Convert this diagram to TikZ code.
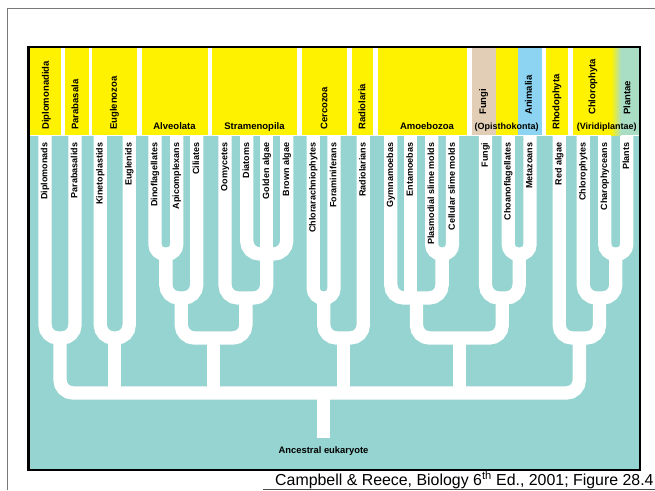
\documentclass[tikz,border=0pt]{standalone}
\usepackage{fontspec}
\setmainfont{Liberation Sans}
\definecolor{tealbg}{RGB}{149,212,208}
\definecolor{hdryellow}{RGB}{255,242,0}
\definecolor{fungitan}{RGB}{226,206,182}
\definecolor{animalblue}{RGB}{140,212,242}
\definecolor{plantgreen}{RGB}{170,222,196}
\definecolor{framegray}{RGB}{120,120,120}

\begin{document}
\begin{tikzpicture}[x=1pt, y=-1pt, every node/.style={inner sep=0pt, font=\bfseries\fontsize{9}{10}\selectfont}]
\useasboundingbox (0,0) rectangle (655,490);
\tikzset{branch/.style={draw=white, line width=13.3pt, rounded corners=9.5pt}}
\tikzset{widebranch/.style={branch, rounded corners=13pt}}
\tikzset{stem/.style={draw=white, line width=13.3pt}}
\tikzset{leaf/.style={rotate=90, anchor=east, text height=6.5pt, text depth=1.9pt}}
\tikzset{clade/.style={rotate=90, anchor=west, font=\bfseries\fontsize{9.5}{10}\selectfont, text height=6.8pt, text depth=2pt}}
\tikzset{group/.style={anchor=base, font=\bfseries\fontsize{9.5}{10}\selectfont}}

% slide frame
\draw[framegray, line width=1pt] (7,490) -- (7,8) -- (655,8);

% header bands
\fill[hdryellow] (30,48) rectangle (60.5,135);
\fill[hdryellow] (64.5,48) rectangle (88.5,135);
\fill[hdryellow] (92,48) rectangle (136.8,135);
\fill[hdryellow] (141.5,48) rectangle (207.5,135);
\fill[hdryellow] (212.3,48) rectangle (297.3,135);
\fill[hdryellow] (302.3,48) rectangle (346.7,135);
\fill[hdryellow] (351.7,48) rectangle (372.7,135);
\fill[hdryellow] (378.3,48) rectangle (466.7,135);
\fill[fungitan] (471.7,48) rectangle (495.7,135);
\fill[hdryellow] (495.7,48) rectangle (518.3,135);
\fill[animalblue] (518.3,48) rectangle (541.7,135);
\fill[hdryellow] (546,48) rectangle (568.3,135);
\fill[hdryellow] (572.7,48) rectangle (611,135);
\shade[left color=hdryellow, right color=plantgreen] (611,48) rectangle (621,135);
\fill[plantgreen] (621,48) rectangle (638.5,135);

\node[clade] (h-dipl) at (46.5,130) {Diplomonadida};
\node[clade] (h-para) at (76,130) {Parabasala};
\node[clade] (h-eugl) at (114.5,130) {Euglenozoa};
\node[group] (h-alve) at (174.5,129) {Alveolata};
\node[group] (h-stra) at (254.5,129) {Stramenopila};
\node[clade] (h-cerc) at (325,130) {Cercozoa};
\node[clade] (h-radi) at (363,130) {Radiolaria};
\node[group] (h-amoe) at (427,129) {Amoebozoa};
\node[clade] (h-fung) at (483.7,115) {Fungi};
\node[clade] (h-anim) at (529.5,115) {Animalia};
\node[group, font=\bfseries\fontsize{9}{10}\selectfont] (h-opis) at (506.7,129) {(Opisthokonta)};
\node[clade] (h-rhod) at (557,130) {Rhodophyta};
\node[clade] (h-chlo) at (593,115) {Chlorophyta};
\node[clade] (h-plan) at (628,115) {Plantae};
\node[group, font=\bfseries\fontsize{9}{10}\selectfont] (h-viri) at (606.7,129) {(Viridiplantae)};

% tree background
\fill[tealbg] (29.5,136) rectangle (639,469);

% leaf tips
\coordinate (dipl) at (45,136);
\coordinate (para) at (75,136);
\coordinate (kine) at (100.3,136);
\coordinate (eugl) at (129.2,136);
\coordinate (dino) at (155,136);
\coordinate (apic) at (176.7,136);
\coordinate (cili) at (196.7,136);
\coordinate (oomy) at (225,136);
\coordinate (diat) at (246.7,136);
\coordinate (gold) at (266.7,136);
\coordinate (brow) at (286.7,136);
\coordinate (chlo) at (313.3,136);
\coordinate (fora) at (334,136);
\coordinate (radi) at (363.3,136);
\coordinate (gymn) at (390.8,136);
\coordinate (enta) at (410.5,136);
\coordinate (plas) at (431.7,136);
\coordinate (cell) at (452.5,136);
\coordinate (fung) at (485.5,136);
\coordinate (choa) at (508.3,136);
\coordinate (meta) at (530,136);
\coordinate (reda) at (559.2,136);
\coordinate (chlp) at (583.3,136);
\coordinate (char) at (604.8,136);
\coordinate (plan) at (626.7,136);

% joins
\coordinate (dp) at (60,338);
\coordinate (ke) at (114.75,338);
\coordinate (da) at (165.85,254);
\coordinate (dac) at (181.3,298);
\coordinate (dgb) at (266.7,254);
\coordinate (odgb) at (245.85,298);
\coordinate (alst) at (213.6,338);
\coordinate (cf) at (323.65,298);
\coordinate (cfr) at (343.5,338);
\coordinate (pc) at (442.1,254);
\coordinate (amoe) at (416.45,298);
\coordinate (cm) at (519.15,254);
\coordinate (fcm) at (502.3,298);
\coordinate (amop) at (459.4,338);
\coordinate (cp) at (615.75,254);
\coordinate (ccp) at (599.5,298);
\coordinate (rc) at (579.35,338);
\coordinate (bar) at (323.5,393);
\coordinate (rootend) at (323.5,438);

\draw[widebranch] (dipl) -- (dipl |- dp) -- (para |- dp) -- (para);
\draw[widebranch] (kine) -- (kine |- ke) -- (eugl |- ke) -- (eugl);
\draw[branch] (dino) -- (dino |- da) -- (apic |- da) -- (apic);
\draw[widebranch] (da) -- (da |- dac) -- (cili |- dac) -- (cili);
\draw[widebranch] (diat) -- (diat |- dgb) -- (brow |- dgb) -- (brow);
\draw[stem] (gold) -- (dgb);
\draw[widebranch] (oomy) -- (oomy |- odgb) -- (dgb |- odgb) -- (dgb);
\draw[widebranch] (dac) -- (dac |- alst) -- (odgb |- alst) -- (odgb);
\draw[branch] (chlo) -- (chlo |- cf) -- (fora |- cf) -- (fora);
\draw[widebranch] (cf) -- (cf |- cfr) -- (radi |- cfr) -- (radi);
\draw[branch] (plas) -- (plas |- pc) -- (cell |- pc) -- (cell);
\draw[widebranch] (gymn) -- (gymn |- amoe) -- (pc |- amoe) -- (pc);
\draw[stem] (enta) -- (enta |- amoe);
\draw[branch] (choa) -- (choa |- cm) -- (meta |- cm) -- (meta);
\draw[widebranch] (fung) -- (fung |- fcm) -- (cm |- fcm) -- (cm);
\draw[widebranch] (amoe) -- (amoe |- amop) -- (fcm |- amop) -- (fcm);
\draw[branch] (char) -- (char |- cp) -- (plan |- cp) -- (plan);
\draw[widebranch] (chlp) -- (chlp |- ccp) -- (cp |- ccp) -- (cp);
\draw[widebranch] (reda) -- (reda |- rc) -- (ccp |- rc) -- (ccp);
\draw[widebranch] (dp) -- (dp |- bar) -- (rc |- bar) -- (rc);
\draw[stem] (ke) -- (ke |- bar);
\draw[stem] (alst) -- (alst |- bar);
\draw[stem] (cfr) -- (cfr |- bar);
\draw[stem] (amop) -- (amop |- bar);
\draw[stem] (bar) -- (rootend);

% leaf labels
\node[leaf] (t-dipl) at ([yshift=-6.5pt]dipl) {Diplomonads};
\node[leaf] (t-para) at ([yshift=-6.5pt]para) {Parabasalids};
\node[leaf] (t-kine) at ([yshift=-6.5pt]kine) {Kinetoplastids};
\node[leaf] (t-eugl) at ([yshift=-6.5pt]eugl) {Euglenids};
\node[leaf] (t-dino) at ([yshift=-6.5pt]dino) {Dinoflagellates};
\node[leaf] (t-apic) at ([yshift=-6.5pt]apic) {Apicomplexans};
\node[leaf] (t-cili) at ([yshift=-6.5pt]cili) {Ciliates};
\node[leaf] (t-oomy) at ([yshift=-6.5pt]oomy) {Oomycetes};
\node[leaf] (t-diat) at ([yshift=-6.5pt]diat) {Diatoms};
\node[leaf] (t-gold) at ([yshift=-6.5pt]gold) {Golden algae};
\node[leaf] (t-brow) at ([yshift=-6.5pt]brow) {Brown algae};
\node[leaf] (t-chlo) at ([yshift=-6.5pt]chlo) {Chlorarachniophytes};
\node[leaf] (t-fora) at ([yshift=-6.5pt]fora) {Foraminiferans};
\node[leaf] (t-radi) at ([yshift=-6.5pt]radi) {Radiolarians};
\node[leaf] (t-gymn) at ([yshift=-6.5pt]gymn) {Gymnamoebas};
\node[leaf] (t-enta) at ([yshift=-6.5pt]enta) {Entamoebas};
\node[leaf] (t-plas) at ([yshift=-6.5pt]plas) {Plasmodial slime molds};
\node[leaf] (t-cell) at ([yshift=-6.5pt]cell) {Cellular slime molds};
\node[leaf] (t-fung) at ([yshift=-6.5pt]fung) {Fungi};
\node[leaf] (t-choa) at ([yshift=-6.5pt]choa) {Choanoflagellates};
\node[leaf] (t-meta) at ([yshift=-6.5pt]meta) {Metazoans};
\node[leaf] (t-reda) at ([yshift=-6.5pt]reda) {Red algae};
\node[leaf] (t-chlp) at ([yshift=-6.5pt]chlp) {Chlorophytes};
\node[leaf] (t-char) at ([yshift=-6.5pt]char) {Charophyceans};
\node[leaf] (t-plan) at ([yshift=-6.5pt]plan) {Plants};

\node[font=\bfseries\fontsize{9.4}{10}\selectfont] (anc) at (323.5,451.5) {Ancestral eukaryote};

% box and source line
\draw[line width=2.5pt] (28.5,47) rectangle (640,470);
\node[anchor=base west, font=\fontsize{15.9}{18}\selectfont] (cap) at (275,485.5) {Campbell \& Reece, Biology 6\textsuperscript{th} Ed., 2001; Figure 28.4};
\draw[black!70, line width=1.2pt] (263,489.4) -- (655,489.4);
\end{tikzpicture}
\end{document}
